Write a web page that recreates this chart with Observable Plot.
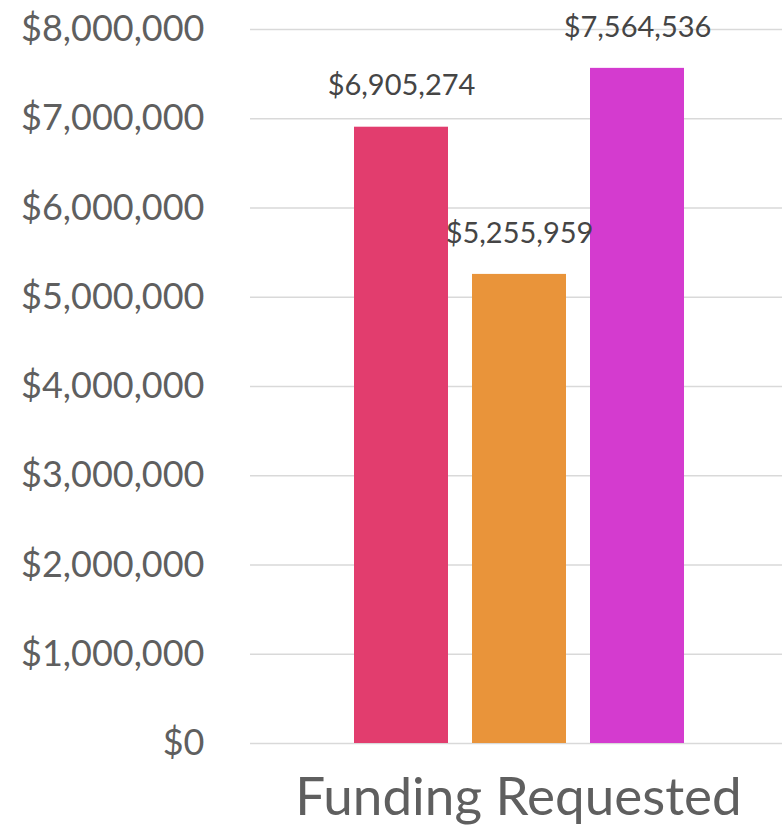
<!DOCTYPE html>
<html>
<head>
<meta charset="utf-8">
<script src="https://cdn.jsdelivr.net/npm/d3@7"></script>
<script src="https://cdn.jsdelivr.net/npm/@observablehq/plot@0.6"></script>
<style>
  html, body { margin: 0; padding: 0; background: #fff; }
  #chart svg { display: block; }
</style>
</head>
<body>
<div id="chart"></div>
<script>
const categories = ["Funding Requested"];
const series = ["Series 1", "Series 2", "Series 3"];
const values = [6905274, 5255959, 7564536];
const colors = ["#E23D6E", "#E9943A", "#D43BCF"];
const yTicks = [0, 1000000, 2000000, 3000000, 4000000, 5000000, 6000000, 7000000, 8000000];

const data = series.map((s, i) => ({series: s, value: values[i], category: categories[0]}));
const fmt = d3.format("$,");

const chart = Plot.plot({
  width: 782,
  height: 825,
  marginLeft: 250,
  marginRight: 0,
  marginTop: 29,
  marginBottom: 82,
  style: {fontFamily: "Lato, 'Open Sans', sans-serif", background: "#fff"},
  x: {domain: series, range: [250, 787], paddingInner: 0.207, paddingOuter: 0.87, axis: null},
  y: {domain: [0, 8000000]},
  color: {domain: series, range: colors},
  marks: [
    Plot.ruleY(yTicks, {stroke: "#d9d9d9", strokeWidth: 1.5}),
    Plot.axisY(yTicks, {tickSize: 0, tickPadding: 46, tickFormat: fmt, fontSize: 36, fill: "#5f5f5f", label: null}),
    Plot.barY(data, {x: "series", y: "value", fill: "series"}),
    Plot.text(data, {x: "series", y: "value", text: d => fmt(d.value), dy: -41, fontSize: 29, fill: "#454545"}),
    Plot.text(categories, {text: d => d, frameAnchor: "bottom", dy: 71, dx: 2, fontSize: 53, fill: "#5f5f5f"})
  ]
});
document.getElementById("chart").appendChild(chart);
</script>
</body>
</html>
